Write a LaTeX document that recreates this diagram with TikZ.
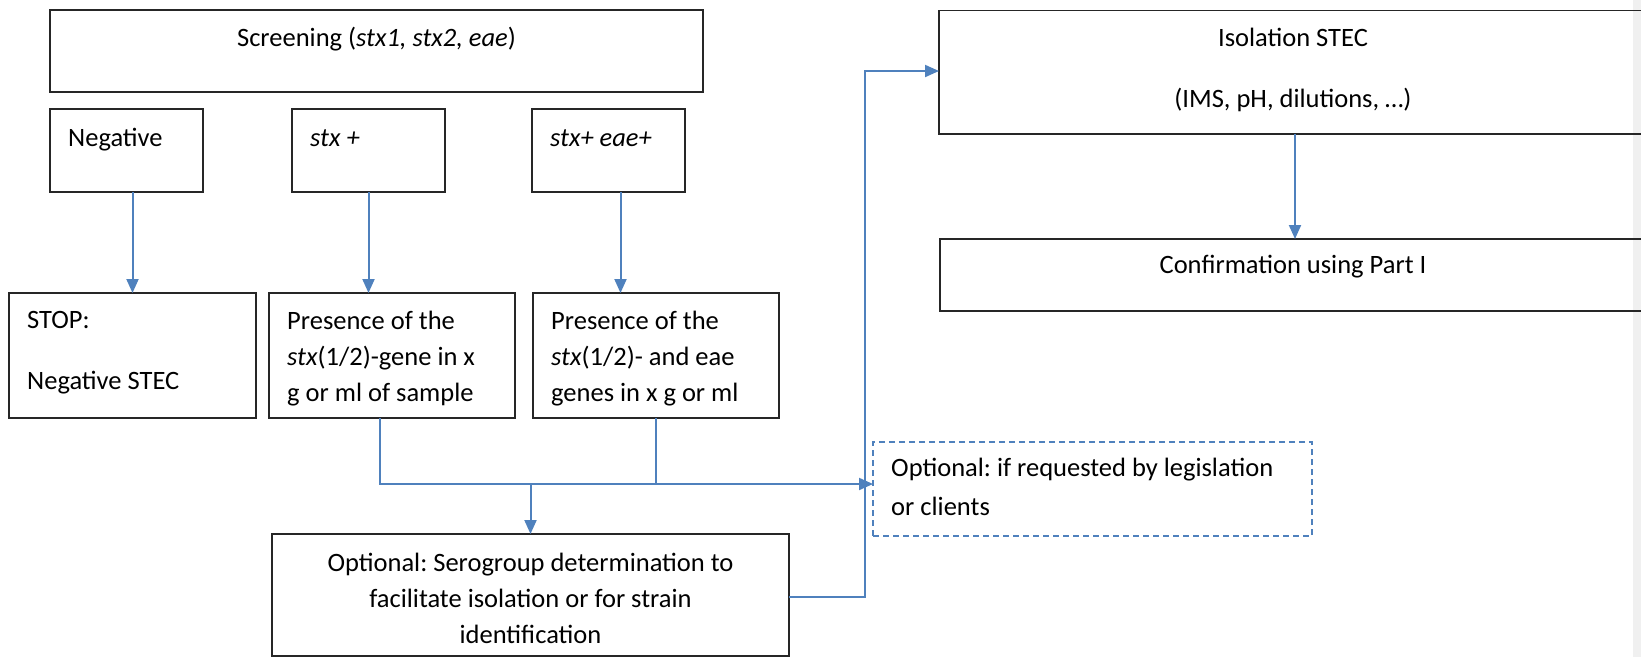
\documentclass[tikz,border=0pt]{standalone}
\usepackage{fontspec}
\setmainfont{Carlito}
\usetikzlibrary{arrows.meta}
\frenchspacing
\definecolor{conblue}{HTML}{4F81BD}
\definecolor{edgegray}{HTML}{F0F0F0}
\newcommand\mylines[1]{\begin{tabular}[t]{@{}l@{}}#1\end{tabular}}
\newcommand\myclines[1]{\begin{tabular}[t]{@{}c@{}}#1\end{tabular}}
\tikzset{
  box/.style={draw=black!85, line width=1.8pt, rectangle, anchor=north west, inner sep=0pt, outer sep=0pt},
  dashbox/.style={draw=conblue, line width=1.8pt, dash pattern=on 6pt off 4pt, rectangle, anchor=north west, inner sep=0pt, outer sep=0pt},
  lbl/.style={inner sep=0pt, font=\fontsize{26.5}{36}\selectfont},
  conn/.style={draw=conblue, line width=2pt},
  arr/.style={conn, -{Triangle[length=14pt,width=12pt]}},
}
\begin{document}
\begin{tikzpicture}[x=1pt,y=-1pt]
\useasboundingbox (0,0) rectangle (1641,657);
\clip (0,0) rectangle (1641,657);
\fill[edgegray] (1633,0) rectangle (1641,657);
% boxes
\node[box, minimum width=653pt, minimum height=82pt] (scr) at (50,10) {};
\node[box, minimum width=153pt, minimum height=83pt] (neg) at (50,109) {};
\node[box, minimum width=153pt, minimum height=83pt] (sp) at (292,109) {};
\node[box, minimum width=153pt, minimum height=83pt] (se) at (532,109) {};
\node[box, minimum width=247pt, minimum height=125pt] (stop) at (9,293) {};
\node[box, minimum width=246pt, minimum height=125pt] (p1) at (269,293) {};
\node[box, minimum width=246pt, minimum height=125pt] (p2) at (533,293) {};
\node[box, minimum width=517pt, minimum height=122pt] (sero) at (272,534) {};
\node[dashbox, minimum width=439pt, minimum height=94pt] (dash) at (873,442) {};
\node[box, minimum width=720pt, minimum height=123.5pt] (iso) at (939,10.5) {};
\node[box, minimum width=720pt, minimum height=72pt] (conf) at (940,239) {};
% texts
\node[lbl, anchor=base] (tscr) at (376.5,46) {Screening (\textit{stx1, stx2, eae})};
\node[lbl, anchor=base west] (tneg) at (68,146) {Negative};
\node[lbl, anchor=base west] (tsp) at (310,146) {\textit{stx +}};
\node[lbl, anchor=base west] (tse) at (550,146) {\textit{stx+ eae+}};
\node[lbl, anchor=base west] (tstop) at (27,328) {\mylines{STOP:\\[25pt]Negative STEC}};
\node[lbl, anchor=base west] (tp1) at (287,329) {\mylines{Presence of the\\\textit{stx}(1/2)-gene in x\\g or ml of sample}};
\node[lbl, anchor=base west] (tp2) at (551,329) {\mylines{Presence of the\\\textit{stx}(1/2)- and eae\\genes in x g or ml}};
\node[lbl, anchor=base] (tsero) at (530.5,571) {\myclines{Optional: Serogroup determination to\\facilitate isolation or for strain\\identification}};
\node[lbl, anchor=base west] (tdash) at (891,476) {\mylines{Optional: if requested by legislation\\[3pt]or clients}};
\node[lbl, anchor=base] (tiso) at (1293,46) {\myclines{Isolation STEC\\[25pt](IMS, pH, dilutions, …)}};
\node[lbl, anchor=base] (tconf) at (1293,273) {Confirmation using Part I};
% connectors
\coordinate (m1) at (380,484);
\coordinate (up) at (865,71);
\coordinate (cx) at (1295,0);
\draw[arr] (stop.north |- neg.south) -- (stop.north);
\draw[arr] (sp.south) -- (sp.south |- p1.north);
\draw[arr] ([xshift=12pt]se.south) -- ([xshift=12pt]se.south |- p2.north);
\draw[arr] (m1 |- p1.south) -- (m1) -- (m1 -| dash.west);
\draw[conn] (p2.south) -- (p2.south |- m1);
\draw[arr] (sero.north |- m1) -- (sero.north);
\draw[arr] (sero.east |- 0,597) -| (up) -- (iso.west |- up);
\draw[arr] (iso.south -| cx) -- (conf.north -| cx);
\end{tikzpicture}
\end{document}
